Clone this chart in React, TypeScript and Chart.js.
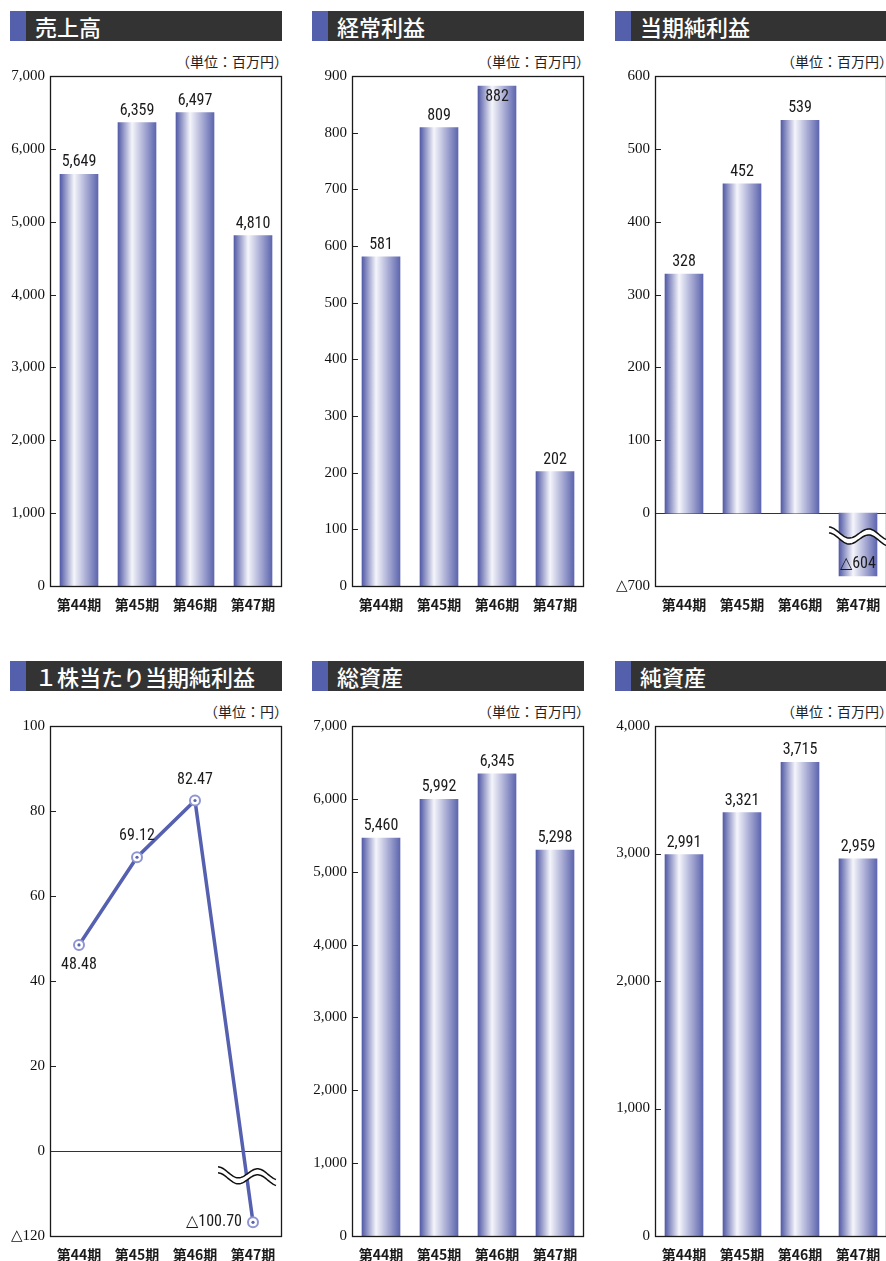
import React, { useEffect, useRef } from 'react';
import { Chart, registerables } from 'chart.js';
Chart.register(...registerables);

const categories = ['第44期', '第45期', '第46期', '第47期'];
const salesValues = [5649, 6359, 6497, 4810];
const ordinaryProfitValues = [581, 809, 882, 202];
const netIncomeValues = [328, 452, 539, -604];
const epsValues = [48.48, 69.12, 82.47, -100.7];
const totalAssetsValues = [5460, 5992, 6345, 5298];
const netAssetsValues = [2991, 3321, 3715, 2959];

type Spec = {
  title: string;
  unit: string;
  col: number;
  row: number;
  type: 'bar' | 'line';
  values: number[];
  min: number;
  max: number;
  step: number;
  negFactor: number;
  decimals: number;
  breakValue?: number;
  labelPlace?: string[];
};

const specs: Spec[] = [
  { title: '売上高', unit: '（単位：百万円）', col: 0, row: 0, type: 'bar', values: salesValues, min: 0, max: 7000, step: 1000, negFactor: 1, decimals: 0 },
  { title: '経常利益', unit: '（単位：百万円）', col: 1, row: 0, type: 'bar', values: ordinaryProfitValues, min: 0, max: 900, step: 100, negFactor: 1, decimals: 0 },
  { title: '当期純利益', unit: '（単位：百万円）', col: 2, row: 0, type: 'bar', values: netIncomeValues, min: -100, max: 600, step: 100, negFactor: 7, decimals: 0, breakValue: -30 },
  { title: '１株当たり当期純利益', unit: '（単位：円）', col: 0, row: 1, type: 'line', values: epsValues, min: -20, max: 100, step: 20, negFactor: 6, decimals: 2, breakValue: -5.6, labelPlace: ['below', 'above', 'above', 'left'] },
  { title: '総資産', unit: '（単位：百万円）', col: 1, row: 1, type: 'bar', values: totalAssetsValues, min: 0, max: 7000, step: 1000, negFactor: 1, decimals: 0 },
  { title: '純資産', unit: '（単位：百万円）', col: 2, row: 1, type: 'bar', values: netAssetsValues, min: 0, max: 4000, step: 1000, negFactor: 1, decimals: 0 },
];

const COL_X = [0, 302, 605];
const ROW_Y = [0, 650];
const LABEL_FONT = '16px "Liberation Sans Narrow", "Roboto Condensed", Roboto, sans-serif';

function fmtNum(v: number, decimals: number) {
  const a = Math.abs(v);
  const s = decimals > 0 ? a.toFixed(decimals) : a.toLocaleString('en-US');
  return (v < 0 ? '△' : '') + s;
}

function drawWave(ctx: CanvasRenderingContext2D, cx: number, cy: number) {
  const w = 58, x0 = cx - w / 2, P = 40, A = 5, gap = 6;
  const top: [number, number][] = [];
  for (let t = 0; t <= w; t += 1) {
    top.push([x0 + t, cy - A * Math.cos((2 * Math.PI * t) / P) + t * 0.05]);
  }
  ctx.save();
  ctx.beginPath();
  top.forEach(([x, y], i) => (i === 0 ? ctx.moveTo(x, y) : ctx.lineTo(x, y)));
  for (let i = top.length - 1; i >= 0; i--) ctx.lineTo(top[i][0], top[i][1] + gap);
  ctx.closePath();
  ctx.fillStyle = '#ffffff';
  ctx.fill();
  ctx.strokeStyle = '#111';
  ctx.lineWidth = 1.5;
  ctx.beginPath();
  top.forEach(([x, y], i) => (i === 0 ? ctx.moveTo(x, y) : ctx.lineTo(x, y)));
  ctx.stroke();
  ctx.beginPath();
  top.forEach(([x, y], i) => (i === 0 ? ctx.moveTo(x, y + gap) : ctx.lineTo(x, y + gap)));
  ctx.stroke();
  ctx.restore();
}

function makeDecor(spec: Spec) {
  return {
    id: 'decor',
    beforeDatasetsDraw(chart: any) {
      const { ctx, chartArea, scales } = chart;
      const { left, right } = chartArea;
      const y = scales.y;
      const meta = chart.getDatasetMeta(0);
      if (spec.type === 'bar') {
        meta.data.forEach((el: any) => {
          const half = el.width / 2;
          if (!isFinite(el.x) || !isFinite(half)) return;
          const g = ctx.createLinearGradient(el.x - half, 0, el.x + half, 0);
          g.addColorStop(0, '#535ba6');
          g.addColorStop(0.37, '#f5f5fb');
          g.addColorStop(1, '#5e66ae');
          el.options = Object.assign({}, el.options, { backgroundColor: g });
        });
      }
      ctx.save();
      ctx.strokeStyle = '#222';
      ctx.lineWidth = 1;
      y.ticks.forEach((t: any) => {
        if (t.value === y.min || t.value === y.max) return;
        const py = Math.round(y.getPixelForValue(t.value)) + 0.5;
        ctx.beginPath();
        ctx.moveTo(left, py);
        ctx.lineTo(left + 6, py);
        ctx.stroke();
      });
      if (y.min < 0) {
        const py = Math.round(y.getPixelForValue(0)) + 0.5;
        ctx.strokeStyle = '#333';
        ctx.beginPath();
        ctx.moveTo(left, py);
        ctx.lineTo(right, py);
        ctx.stroke();
      }
      ctx.restore();
    },
    afterDatasetsDraw(chart: any) {
      const { ctx, chartArea, scales } = chart;
      const { left, right, top, bottom } = chartArea;
      const y = scales.y;
      const meta = chart.getDatasetMeta(0);
      ctx.save();
      ctx.strokeStyle = '#1a1a1a';
      ctx.lineWidth = 1.3;
      ctx.strokeRect(Math.round(left) + 0.5, Math.round(top) + 0.5, Math.round(right - left) - 1, Math.round(bottom - top));
      if (spec.breakValue !== undefined) {
        const last = meta.data[meta.data.length - 1];
        const cx = spec.type === 'bar' ? last.x : last.x - 6;
        drawWave(ctx, cx, y.getPixelForValue(spec.breakValue) - 3);
      }
      ctx.fillStyle = '#1a1a1a';
      ctx.font = LABEL_FONT;
      meta.data.forEach((el: any, i: number) => {
        const v = spec.values[i];
        const txt = fmtNum(v, spec.decimals);
        if (spec.type === 'bar') {
          ctx.textAlign = 'center';
          if (v >= 0 && el.y - 22 < top) {
            ctx.textBaseline = 'top';
            ctx.fillText(txt, el.x, el.y + 3);
          } else {
            ctx.textBaseline = 'bottom';
            ctx.fillText(txt, el.x, el.y - 4);
          }
        } else {
          const place = spec.labelPlace ? spec.labelPlace[i] : 'above';
          if (place === 'left') {
            ctx.textAlign = 'right';
            ctx.textBaseline = 'middle';
            ctx.fillText(txt, el.x - 11, el.y);
          } else if (place === 'below') {
            ctx.textAlign = 'center';
            ctx.textBaseline = 'top';
            ctx.fillText(txt, el.x, el.y + 12);
          } else {
            ctx.textAlign = 'center';
            ctx.textBaseline = 'bottom';
            ctx.fillText(txt, el.x, el.y - 13);
          }
          ctx.beginPath();
          ctx.arc(el.x, el.y, 1.6, 0, Math.PI * 2);
          ctx.fillStyle = '#5a63b0';
          ctx.fill();
          ctx.fillStyle = '#1a1a1a';
        }
      });
      ctx.restore();
    },
  };
}

function ChartPanel({ spec }: { spec: Spec }) {
  const ref = useRef<HTMLCanvasElement | null>(null);
  useEffect(() => {
    if (!ref.current) return;
    const plotted = spec.values.map((v) => (v < 0 ? v / spec.negFactor : v));
    const dataset: any =
      spec.type === 'bar'
        ? { data: plotted, backgroundColor: '#7078b8', borderWidth: 0, barThickness: 38 }
        : {
            data: plotted,
            borderColor: '#5560b0',
            borderWidth: 3.5,
            tension: 0,
            pointRadius: 5,
            pointBorderWidth: 2,
            pointBackgroundColor: '#ffffff',
            pointBorderColor: '#8f95d2',
          };
    const chart = new Chart(ref.current, {
      type: spec.type,
      data: { labels: categories, datasets: [dataset] },
      options: {
        responsive: false,
        maintainAspectRatio: false,
        animation: false,
        layout: { padding: { top: 16, right: 18, left: 0, bottom: 0 } },
        plugins: { legend: { display: false }, tooltip: { enabled: false } },
        scales: {
          x: {
            offset: true,
            grid: { display: false, drawTicks: false },
            border: { display: false },
            ticks: {
              padding: 10,
              color: '#1a1a1a',
              font: { family: '"Noto Sans CJK JP", sans-serif', size: 14, weight: 'bold' },
            },
            afterFit: (s: any) => {
              s.height = 44;
            },
          },
          y: {
            min: spec.min,
            max: spec.max,
            grid: { display: false, drawTicks: false },
            border: { display: false },
            ticks: {
              stepSize: spec.step,
              padding: 5,
              color: '#111',
              font: { family: '"Liberation Serif", serif', size: 15 },
              callback: (v: any) => {
                const n = Number(v);
                if (n < 0) return '△' + (-n * spec.negFactor).toLocaleString('en-US');
                return n.toLocaleString('en-US');
              },
            },
            afterFit: (s: any) => {
              s.width = 50;
            },
          },
        },
      } as any,
      plugins: [makeDecor(spec)],
    });
    return () => chart.destroy();
  }, [spec]);

  const x0 = COL_X[spec.col];
  const y0 = ROW_Y[spec.row];
  const barW = spec.col === 2 ? 271 : 272;
  return (
    <>
      <div
        style={{
          position: 'absolute',
          left: x0 + 10,
          top: y0 + 11,
          width: barW,
          height: 30,
          background: '#333333',
        }}
      >
        <div style={{ position: 'absolute', left: 0, top: 0, width: 16, height: 30, background: '#5560ac' }} />
        <div
          style={{
            position: 'absolute',
            left: 25,
            top: 0,
            height: 30,
            lineHeight: '30px',
            color: '#ffffff',
            fontFamily: '"Noto Sans CJK JP", sans-serif',
            fontSize: 22,
            fontWeight: 500,
            whiteSpace: 'nowrap',
          }}
        >
          {spec.title}
        </div>
      </div>
      <div
        style={{
          position: 'absolute',
          left: x0 + 88,
          top: y0 + 52,
          width: 200,
          textAlign: 'right',
          fontFamily: '"Noto Sans CJK JP", sans-serif',
          fontSize: 14,
          fontWeight: 400,
          lineHeight: '18px',
          color: '#222222',
          whiteSpace: 'nowrap',
        }}
      >
        {spec.unit}
      </div>
      <canvas
        ref={ref}
        width={300}
        height={570}
        style={{ position: 'absolute', left: x0, top: y0 + 60, width: 300, height: 570 }}
      />
    </>
  );
}

export default function App() {
  return (
    <div
      style={{
        position: 'absolute',
        left: 0,
        top: 0,
        width: 886,
        height: 1261,
        overflow: 'hidden',
        background: '#ffffff',
      }}
    >
      {specs.map((s, i) => (
        <ChartPanel key={i} spec={s} />
      ))}
    </div>
  );
}
